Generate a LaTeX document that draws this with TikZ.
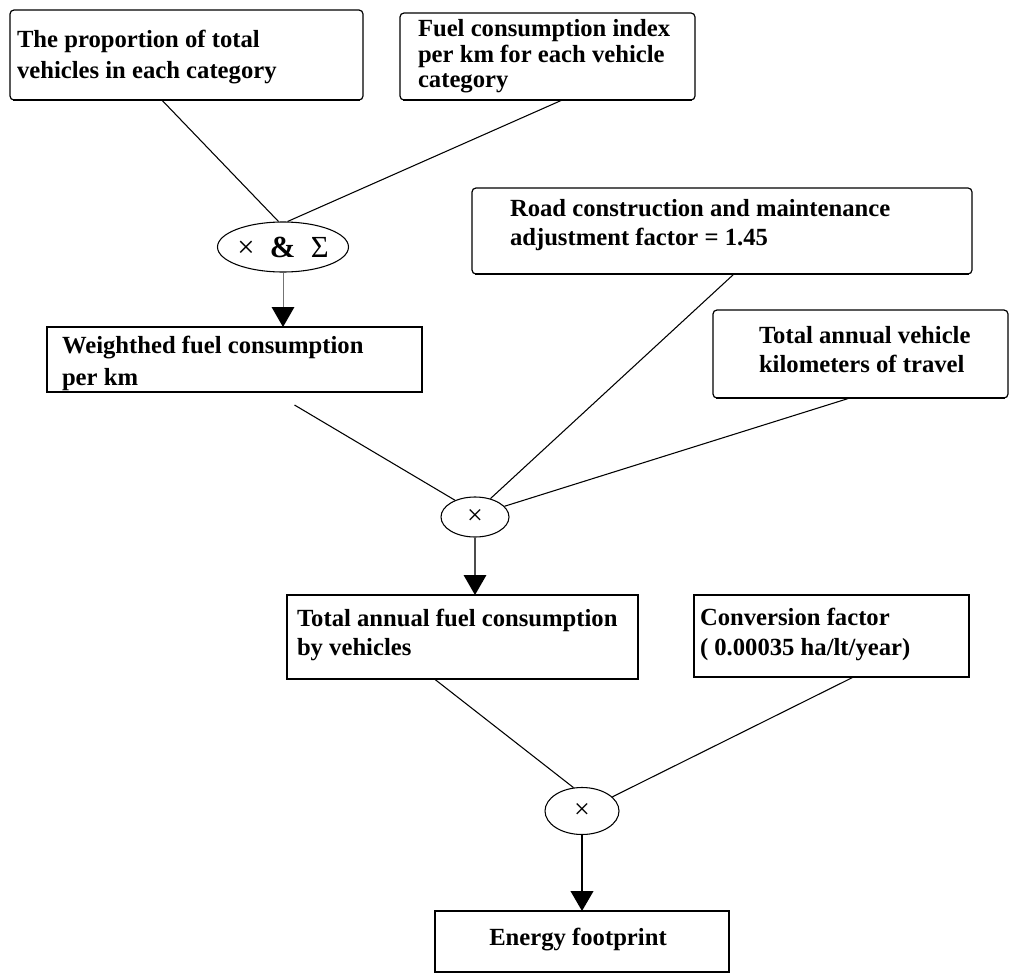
\documentclass[tikz,border=0pt]{standalone}
\usepackage{fontspec}
\setmainfont{Liberation Serif}
\usetikzlibrary{arrows.meta,calc,shapes.geometric,fit}
\newcommand\boxfont[1]{\fontsize{18.5pt}{#1}\selectfont\bfseries}
\begin{document}
\begin{tikzpicture}[x=0.75pt,y=-0.75pt,
  box/.style={draw, line width=0.9pt, inner sep=0, outer sep=0},
  rbox/.style={box, rounded corners=3pt},
  txt/.style={anchor=north west, inner sep=0, outer sep=0, align=left},
  oval/.style={ellipse, draw, line width=0.8pt, inner sep=0},
  link/.style={line width=0.8pt},
  shadeline/.style={line width=2.2pt},
  arr/.style={line width=0.9pt, -{Triangle[width=17pt,length=15pt,color=black]}}]
\useasboundingbox (0,0) rectangle (1018,974);

% boxes
\node[rbox, fit={(10,10) (363,100)}] (b1) {};
\node[rbox, fit={(400,13) (695,100)}] (b2) {};
\node[rbox, fit={(472,188) (972,274)}] (b4) {};
\node[box, fit={(47,327) (422,392)}] (b3) {};
\node[rbox, fit={(713,310) (1008,398)}] (b5) {};
\node[box, fit={(287,595) (638,679)}] (b6) {};
\node[box, fit={(694,595) (969,677)}] (b7) {};
\node[box, fit={(435,911) (729,972)}] (b8) {};

% heavier bottom edges
\draw[shadeline] ([xshift=2pt]b1.south west) -- ([xshift=-2pt]b1.south east);
\draw[shadeline] ([xshift=2pt]b2.south west) -- ([xshift=-2pt]b2.south east);
\draw[shadeline] ([xshift=2pt]b4.south west) -- ([xshift=-2pt]b4.south east);
\draw[shadeline] ([xshift=2pt]b3.south west) -- (b3.south east);
\draw[shadeline] ([xshift=2pt]b5.south west) -- ([xshift=-2pt]b5.south east);
\draw[shadeline] ([xshift=2pt]b7.south west) -- (b7.south east);

% texts
\node[txt, font={\boxfont{23.6pt}}] (t1) at (17,25)
  {\strut The proportion of total\\\strut vehicles in each category};
\node[txt, font={\boxfont{19.1pt}}] (t2) at (418,19)
  {\strut Fuel consumption index\\\strut per km for each vehicle\\\strut category};
\node[txt, font={\boxfont{22.1pt}}] (t4) at (510,195.4)
  {\strut Road construction and maintenance\\\strut adjustment factor = 1.45};
\node[txt, font={\boxfont{24pt}}] (t3) at (62,330.6)
  {\strut Weighthed fuel consumption\\\strut per km};
\node[txt, font={\boxfont{21.75pt}}] (t5) at (759,322.7)
  {\strut Total annual vehicle\\\strut kilometers of travel};
\node[txt, font={\boxfont{21.4pt}}] (t6) at (297,607)
  {\strut Total annual fuel consumption\\\strut by vehicles};
\node[txt, font={\boxfont{22.5pt}}] (t7) at (700,604)
  {\strut Conversion factor\\\strut ( 0.00035 ha/lt/year)};
\node[anchor=base, inner sep=0, font={\boxfont{22pt}}] (t8) at (578,945) {Energy footprint};

% operator ellipses
\node[oval, minimum width=98.25pt, minimum height=37.5pt, font=\fontsize{23pt}{25pt}\selectfont] (e1) at (283,247) {×\enspace\textbf{\&}\enspace Σ};
\node[oval, minimum width=51pt, minimum height=30pt, font=\fontsize{21pt}{23pt}\selectfont] (e2) at (475,517) {×};
\node[oval, minimum width=55.5pt, minimum height=35.25pt, font=\fontsize{21pt}{23pt}\selectfont] (e3) at (582,811) {×};

% connector start points
\coordinate (s1) at ($(b1.south west)!0.43!(b1.south east)$);
\coordinate (s2) at ($(b2.south west)!0.55!(b2.south east)$);
\coordinate (s3) at ($(b3.south west)!0.66!(b3.south east)+(0,13)$);
\coordinate (s4) at ($(b4.south west)!0.524!(b4.south east)$);
\coordinate (s5) at ($(b5.south west)!0.464!(b5.south east)$);
\coordinate (s6) at ($(b6.south west)!0.42!(b6.south east)$);
\coordinate (s7) at ($(b7.south west)!0.58!(b7.south east)$);

% connectors
\draw[link] (s1) -- (e1.100);
\draw[link] (s2) -- (e1.80);
\draw[link] (s3) -- (e2.140);
\draw[link] (s4) -- (e2.50);
\draw[link] (s5) -- (e2.20);
\draw[link] (s6) -- (e3.110);
\draw[link] (s7) -- (e3.25);

% arrows
\draw[arr, black!55, line width=0.75pt] (e1.south) -- (e1.south |- b3.north);
\draw[arr, black!70] (e2.south) -- (e2.south |- b6.north);
\draw[arr, line width=1.5pt] (e3.south) -- (e3.south |- b8.north);
\end{tikzpicture}
\end{document}
